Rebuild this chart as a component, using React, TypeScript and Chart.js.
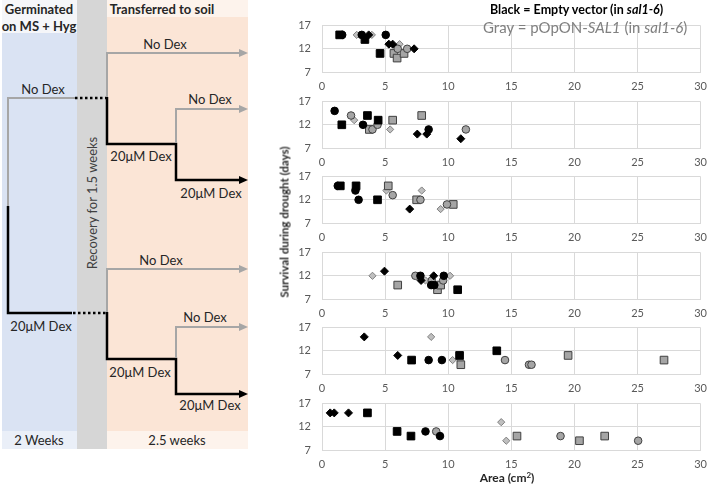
import React, { useEffect, useRef } from "react";
import { Chart, registerables } from "chart.js";

Chart.register(...registerables);

type Pt = [number, number];

// Axis ticks
const X_TICKS = [0, 5, 10, 15, 20, 25, 30];
const Y_TICKS = [7, 12, 17];

// Panel 1
const p1BlackCircle: Pt[] = [[1.6, 15], [3.15, 15], [5.05, 15]];
const p1BlackSquare: Pt[] = [[1.4, 15], [3.4, 14], [4.6, 11]];
const p1BlackDiamond: Pt[] = [[3.7, 15], [5.3, 13], [5.6, 13], [7.3, 12]];
const p1GrayCircle: Pt[] = [[6.0, 12], [6.75, 12]];
const p1GraySquare: Pt[] = [[5.7, 11], [5.95, 10], [6.5, 11]];
const p1GrayDiamond: Pt[] = [[2.75, 15], [3.95, 15], [6.15, 13]];

// Panel 2
const p2BlackCircle: Pt[] = [[1.0, 15], [3.25, 12], [8.45, 11]];
const p2BlackSquare: Pt[] = [[1.57, 12], [3.6, 14], [4.45, 13]];
const p2BlackDiamond: Pt[] = [[7.55, 10], [8.3, 10], [11.0, 9]];
const p2GrayCircle: Pt[] = [[2.3, 14], [4.0, 11], [4.4, 12], [11.4, 11]];
const p2GraySquare: Pt[] = [[3.75, 11], [5.6, 13], [7.9, 14]];
const p2GrayDiamond: Pt[] = [[2.55, 13], [5.4, 11]];

// Panel 3
const p3BlackCircle: Pt[] = [[1.25, 15], [2.65, 14], [2.9, 12]];
const p3BlackSquare: Pt[] = [[1.45, 15], [2.7, 15], [4.4, 12]];
const p3BlackDiamond: Pt[] = [[6.95, 10]];
const p3GrayCircle: Pt[] = [[5.6, 13], [7.8, 12], [9.9, 11]];
const p3GraySquare: Pt[] = [[5.25, 15], [7.5, 12], [10.4, 11]];
const p3GrayDiamond: Pt[] = [[5.1, 14], [7.9, 14], [9.4, 10]];

// Panel 4
const p4BlackCircle: Pt[] = [[7.8, 12], [8.65, 10], [8.9, 10], [9.65, 12]];
const p4BlackSquare: Pt[] = [[10.75, 9]];
const p4BlackDiamond: Pt[] = [[4.95, 13], [7.85, 11], [8.85, 12]];
const p4GrayCircle: Pt[] = [[7.4, 12], [8.7, 11], [9.6, 11]];
const p4GraySquare: Pt[] = [[6.0, 10], [9.15, 9], [9.4, 10]];
const p4GrayDiamond: Pt[] = [[4.0, 12], [8.2, 11], [10.15, 12]];

// Panel 5
const p5BlackCircle: Pt[] = [[8.45, 10], [9.5, 10]];
const p5BlackSquare: Pt[] = [[7.1, 10], [10.9, 11], [13.85, 12]];
const p5BlackDiamond: Pt[] = [[3.35, 15], [6.0, 11]];
const p5GrayCircle: Pt[] = [[14.5, 10], [16.4, 9], [16.6, 9]];
const p5GraySquare: Pt[] = [[11.0, 9], [19.5, 11], [27.1, 10]];
const p5GrayDiamond: Pt[] = [[8.65, 15], [10.35, 10], [10.95, 10]];

// Panel 6
const p6BlackCircle: Pt[] = [[8.2, 11], [9.35, 10]];
const p6BlackSquare: Pt[] = [[3.6, 15], [5.95, 11], [7.05, 10]];
const p6BlackDiamond: Pt[] = [[0.65, 15], [0.97, 15], [2.1, 15]];
const p6GrayCircle: Pt[] = [[9.05, 11], [18.9, 10], [25.05, 9]];
const p6GraySquare: Pt[] = [[15.45, 10], [20.4, 9], [22.4, 10]];
const p6GrayDiamond: Pt[] = [[14.2, 13], [14.6, 9]];

const PANELS: Pt[][][] = [
  [p1BlackCircle, p1BlackSquare, p1BlackDiamond, p1GrayCircle, p1GraySquare, p1GrayDiamond],
  [p2BlackCircle, p2BlackSquare, p2BlackDiamond, p2GrayCircle, p2GraySquare, p2GrayDiamond],
  [p3BlackCircle, p3BlackSquare, p3BlackDiamond, p3GrayCircle, p3GraySquare, p3GrayDiamond],
  [p4BlackCircle, p4BlackSquare, p4BlackDiamond, p4GrayCircle, p4GraySquare, p4GrayDiamond],
  [p5BlackCircle, p5BlackSquare, p5BlackDiamond, p5GrayCircle, p5GraySquare, p5GrayDiamond],
  [p6BlackCircle, p6BlackSquare, p6BlackDiamond, p6GrayCircle, p6GraySquare, p6GrayDiamond],
];

const SERIES_STYLE = [
  { pointStyle: "circle", radius: 3.8, bg: "#000000", border: "#000000" },
  { pointStyle: "rect", radius: 5.4, bg: "#000000", border: "#000000" },
  { pointStyle: "rectRot", radius: 4, bg: "#000000", border: "#000000" },
  { pointStyle: "circle", radius: 3.8, bg: "#a5a5a5", border: "#404040" },
  { pointStyle: "rect", radius: 5.4, bg: "#a5a5a5", border: "#404040" },
  { pointStyle: "rectRot", radius: 3.6, bg: "#bfbfbf", border: "#7f7f7f" },
];

const FONT = "Lato, 'Open Sans', sans-serif";
const CANVAS_W = 430;
const CANVAS_H = 87;

function Panel({ idx, top }: { idx: number; top: number }) {
  const ref = useRef<HTMLCanvasElement>(null);
  useEffect(() => {
    const series = PANELS[idx];
    const chart = new Chart(ref.current as HTMLCanvasElement, {
      type: "scatter",
      data: {
        datasets: series.map((pts, i) => ({
          data: pts.map(([x, y]) => ({ x, y })),
          pointStyle: SERIES_STYLE[i].pointStyle as any,
          pointRadius: SERIES_STYLE[i].radius,
          pointBackgroundColor: SERIES_STYLE[i].bg,
          pointBorderColor: SERIES_STYLE[i].border,
          pointBorderWidth: 1,
          showLine: false,
        })),
      },
      options: {
        animation: false,
        responsive: false,
        maintainAspectRatio: false,
        events: [],
        layout: { padding: { top: 10, right: 0, left: 0, bottom: 0 } },
        plugins: { legend: { display: false }, tooltip: { enabled: false } },
        scales: {
          x: {
            type: "linear",
            min: 0,
            max: 30,
            afterBuildTicks: (s: any) => {
              s.ticks = X_TICKS.map((v) => ({ value: v }));
            },
            afterFit: (s: any) => {
              s.height = 23;
            },
            grid: { color: "#d9d9d9", drawTicks: false, lineWidth: 1 },
            border: { color: "#d9d9d9" },
            ticks: { padding: 8, color: "#595959", font: { family: FONT, size: 11 }, maxRotation: 0 },
          },
          y: {
            type: "linear",
            min: 7,
            max: 17,
            afterBuildTicks: (s: any) => {
              s.ticks = Y_TICKS.map((v) => ({ value: v }));
            },
            afterFit: (s: any) => {
              s.width = 37;
            },
            grid: { color: "#d9d9d9", drawTicks: false, lineWidth: 1 },
            border: { color: "#d9d9d9" },
            ticks: { padding: 11, color: "#595959", font: { family: FONT, size: 11 } },
          },
        },
      },
    });
    return () => chart.destroy();
  }, [idx]);
  return (
    <canvas
      ref={ref}
      width={CANVAS_W}
      height={CANVAS_H}
      style={{ position: "absolute", left: 285, top, width: CANVAS_W, height: CANVAS_H }}
    />
  );
}

const GRAY_LINE = "#a6a6a6";
const BLACK_LINE = "#000000";
const LABEL_COLOR = "#262626";

function Diagram() {
  const label = (x: number, y: number, s: string) => (
    <text x={x} y={y} textAnchor="middle" dominantBaseline="central" fontSize={13} fill={LABEL_COLOR}>
      {s}
    </text>
  );
  const arrow = (y: number, color: string) => (
    <polygon points={`248,${y} 239,${y - 4} 239,${y + 4}`} fill={color} />
  );
  const gray = (d: string) => <path d={d} stroke={GRAY_LINE} strokeWidth={2} fill="none" />;
  const black = (d: string) => <path d={d} stroke={BLACK_LINE} strokeWidth={2.5} fill="none" />;
  return (
    <svg
      width={250}
      height={452}
      style={{ position: "absolute", left: 0, top: 0 }}
      fontFamily={FONT}
    >
      <rect x={2} y={0} width={75} height={449} fill="#dae3f3" />
      <rect x={2} y={0} width={75} height={33} fill="#f5f6f9" />
      <rect x={2} y={431} width={75} height={18} fill="#eaeff8" />
      <rect x={77} y={0} width={30} height={449} fill="#d6d6d6" />
      <rect x={107} y={0} width={141} height={449} fill="#fbe5d6" />
      <rect x={107} y={0} width={141} height={17} fill="#fdf3ec" />
      <rect x={107} y={431} width={141} height={18} fill="#fdf3ec" />

      <text x={39} y={9} textAnchor="middle" dominantBaseline="central" fontSize={13} fontWeight={700} fill={LABEL_COLOR}>
        Germinated
      </text>
      <text x={39} y={26} textAnchor="middle" dominantBaseline="central" fontSize={13} fontWeight={700} fill={LABEL_COLOR}>
        on MS + Hyg
      </text>
      <text x={162} y={9} textAnchor="middle" dominantBaseline="central" fontSize={13} fontWeight={700} fill={LABEL_COLOR}>
        Transferred to soil
      </text>
      <text
        x={92}
        y={203}
        textAnchor="middle"
        dominantBaseline="central"
        fontSize={13}
        fill="#404040"
        transform="rotate(-90 92 203)"
      >
        Recovery for 1.5 weeks
      </text>
      <text x={39} y={440} textAnchor="middle" dominantBaseline="central" fontSize={13} fill={LABEL_COLOR}>
        2 Weeks
      </text>
      <text x={177} y={440} textAnchor="middle" dominantBaseline="central" fontSize={13} fill={LABEL_COLOR}>
        2.5 weeks
      </text>

      {/* left column */}
      {gray("M 8 207 V 98 H 75")}
      {black("M 8 206 V 313 H 72")}
      <path d="M 75 98 H 106" stroke={BLACK_LINE} strokeWidth={2.5} strokeDasharray="2.5 2.5" />
      <path d="M 73 313 H 106" stroke={BLACK_LINE} strokeWidth={2.5} strokeDasharray="2.5 2.5" />

      {/* group 1 */}
      {gray("M 240 53 H 107 V 98")}
      {arrow(53, GRAY_LINE)}
      {black("M 107 97 V 144 H 176 V 180 H 240")}
      {arrow(180, BLACK_LINE)}
      {gray("M 176 143 V 109 H 240")}
      {arrow(109, GRAY_LINE)}

      {/* group 2 */}
      {gray("M 240 269 H 107 V 313")}
      {arrow(269, GRAY_LINE)}
      {black("M 107 312 V 359 H 176 V 394 H 240")}
      {arrow(394, BLACK_LINE)}
      {gray("M 176 358 V 327 H 240")}
      {arrow(327, GRAY_LINE)}

      {label(43, 89, "No Dex")}
      {label(165, 44, "No Dex")}
      {label(141, 156, "20\u03bcM Dex")}
      {label(210, 99, "No Dex")}
      {label(211, 193, "20\u03bcM Dex")}
      {label(41, 326, "20\u03bcM Dex")}
      {label(161, 260, "No Dex")}
      {label(140, 372, "20\u03bcM Dex")}
      {label(205, 317, "No Dex")}
      {label(210, 405, "20\u03bcM Dex")}
    </svg>
  );
}

export default function App() {
  const panelTops = [0, 1, 2, 3, 4, 5].map((i) => Math.round(8.3 + 75.5 * i));
  return (
    <div
      style={{
        position: "fixed",
        left: 0,
        top: 0,
        width: 709,
        height: 490,
        background: "#ffffff",
        fontFamily: FONT,
        overflow: "hidden",
      }}
    >
      <Diagram />
      {panelTops.map((t, i) => (
        <Panel key={i} idx={i} top={t} />
      ))}
      <div
        style={{
          position: "absolute",
          left: 490,
          top: 2,
          fontSize: 12.5,
          lineHeight: "16px",
          fontWeight: 700,
          color: "#000",
          whiteSpace: "nowrap",
        }}
      >
        Black = Empty vector (in <i>sal1-6</i>)
      </div>
      <div
        style={{
          position: "absolute",
          left: 483,
          top: 19,
          fontSize: 15,
          lineHeight: "16px",
          color: "#808080",
          whiteSpace: "nowrap",
        }}
      >
        Gray = pOpON-<i>SAL1</i> (in <i>sal1-6</i>)
      </div>
      <div
        style={{
          position: "absolute",
          left: 284,
          top: 222,
          transform: "translate(-50%, -50%) rotate(-90deg)",
          fontSize: 11.5,
          fontWeight: 700,
          color: "#262626",
          whiteSpace: "nowrap",
        }}
      >
        Survival during drought (days)
      </div>
      <div
        style={{
          position: "absolute",
          left: 507,
          top: 477,
          transform: "translate(-50%, -50%)",
          fontSize: 12,
          fontWeight: 700,
          color: "#262626",
          whiteSpace: "nowrap",
        }}
      >
        Area (cm<sup style={{ fontSize: 8, verticalAlign: "4px", lineHeight: 0 }}>2</sup>)
      </div>
    </div>
  );
}
